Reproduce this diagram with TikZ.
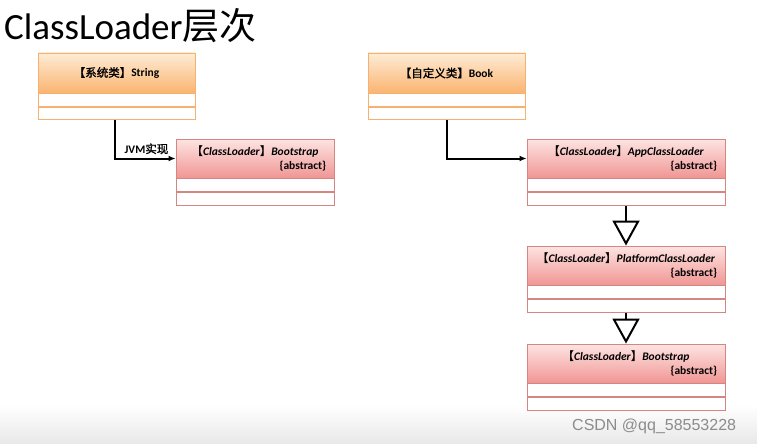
\documentclass[tikz,border=0pt]{standalone}
\usepackage{fontspec}
\setmainfont{Carlito}
\newfontfamily\cjk[AutoFakeBold=1.5]{Noto Sans CJK SC}
\newfontfamily\marca{Liberation Sans}
\usepackage{tikz}
\usetikzlibrary{positioning,arrows.meta}
\definecolor{naranjaborde}{RGB}{246,176,112}
\definecolor{naranjaalto}{RGB}{254,236,214}
\definecolor{naranjabajo}{RGB}{250,180,112}
\definecolor{rojoborde}{RGB}{212,134,130}
\definecolor{rojoalto}{RGB}{253,228,226}
\definecolor{rojobajo}{RGB}{240,150,148}

\begin{document}
\begin{tikzpicture}[x=1pt, y=-1pt,
  cabnar/.style={draw=naranjaborde, line width=0.9pt, top color=naranjaalto,
                 bottom color=naranjabajo, minimum width=157pt, minimum height=40pt,
                 font=\fontsize{11.5}{13}\selectfont\bfseries, inner sep=0pt},
  cabroj/.style={draw=rojoborde, line width=0.9pt, top color=rojoalto,
                 bottom color=rojobajo, minimum width=#1, minimum height=39pt,
                 text width=#1-16pt, align=center, inner xsep=7pt,
                 font=\fontsize{11.5}{14}\selectfont\bfseries\itshape},
  compnar/.style={draw=naranjaborde, line width=0.9pt, fill=white,
                  minimum width=157pt, minimum height=12.5pt, inner sep=0pt},
  comproj/.style={draw=rojoborde, line width=0.9pt, fill=white,
                  minimum width=#1, minimum height=13pt, inner sep=0pt},
  enlace/.style={-{Latex[length=7pt,width=6pt]}, line width=2pt},
  hereda/.style={-{Triangle[open,length=25pt,width=27pt]}, line width=2pt}]
  % Fondo
  \useasboundingbox (0,0) rectangle (757,444);
  \fill[top color=white, bottom color=black!9, draw=none] (0,405) rectangle (757,444);
  % Titulo
  \node[anchor=west, inner sep=0pt, font=\fontsize{37}{40}\selectfont] (titulo)
       at (4,26) {ClassLoader{\cjk 层次}};
  % Clase del sistema
  \node[cabnar] (string) at (116.5,73) {{\cjk 【系统类】}String};
  \node[compnar, below=0pt of string] (string1) {};
  \node[compnar, below=0pt of string1] (string2) {};
  % Clase propia
  \node[cabnar] (book) at (446.5,73) {{\cjk 【自定义类】}Book};
  \node[compnar, below=0pt of book] (book1) {};
  \node[compnar, below=0pt of book1] (book2) {};
  % Bootstrap (JVM)
  \node[cabroj=158pt] (jvmboot) at (255,158.5)
       {{\cjk 【}ClassLoader{\cjk 】}Bootstrap\\ \hspace*{0pt plus 1filll}\upshape\{abstract\}};
  \node[comproj=158pt, below=0pt of jvmboot] (jvmboot1) {};
  \node[comproj=158pt, below=0pt of jvmboot1] (jvmboot2) {};
  % Cadena de cargadores
  \node[cabroj=198pt] (app) at (626,158.5)
       {{\cjk 【}ClassLoader{\cjk 】}AppClassLoader\\ \hspace*{0pt plus 1filll}\upshape\{abstract\}};
  \node[comproj=198pt, below=0pt of app] (app1) {};
  \node[comproj=198pt, below=0pt of app1] (app2) {};
  \node[cabroj=198pt] (plat) at (626,265.5)
       {{\cjk 【}ClassLoader{\cjk 】}PlatformClassLoader\\ \hspace*{0pt plus 1filll}\upshape\{abstract\}};
  \node[comproj=198pt, below=0pt of plat] (plat1) {};
  \node[comproj=198pt, below=0pt of plat1] (plat2) {};
  \node[cabroj=198pt] (boot) at (626,363.5)
       {{\cjk 【}ClassLoader{\cjk 】}Bootstrap\\ \hspace*{0pt plus 1filll}\upshape\{abstract\}};
  \node[comproj=198pt, below=0pt of boot] (boot1) {};
  \node[comproj=198pt, below=0pt of boot1] (boot2) {};
  % Flechas
  \draw[enlace] (string2.south -| 115,0) |- (jvmboot.west)
       node[pos=0.76, above=0pt, font=\fontsize{11.5}{13}\selectfont\bfseries]
       {JVM{\cjk 实现}};
  \draw[enlace] (book2.south) |- (app.west);
  \draw[hereda] (app2.south) -- (plat.north);
  \draw[hereda] (plat2.south) -- (boot.north);
  % Marca
  \node[anchor=west, inner sep=0pt, text=black!45, font=\marca\fontsize{16}{18}\selectfont]
       (marca) at (572,426) {CSDN @qq\_58553228};
\end{tikzpicture}
\end{document}
